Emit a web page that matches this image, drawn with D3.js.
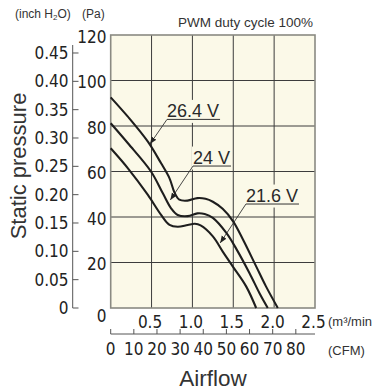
<!DOCTYPE html>
<html><head><meta charset="utf-8">
<script src="https://cdn.jsdelivr.net/npm/d3@7"></script>
<style>body{margin:0;background:#fff}</style>
</head><body><svg id="c" width="378" height="390"></svg>
<script>
// ---------- data ----------
const flowTicks = [0.5, 1.0, 1.5, 2.0, 2.5];
const flowTickLabels = ["0.5", "1.0", "1.5", "2.0", "2.5"];
const paTicks = [20, 40, 60, 80, 100, 120];
const paTickLabels = ["20", "40", "60", "80", "100", "120"];
const inchTicks = [0, 0.05, 0.10, 0.15, 0.20, 0.25, 0.30, 0.35, 0.40, 0.45];
const inchTickLabels = ["0", "0.05", "0.10", "0.15", "0.20", "0.25", "0.30", "0.35", "0.40", "0.45"];
const cfmTicks = [0, 10, 20, 30, 40, 50, 60, 70, 80];
const cfmTickLabels = ["0", "10", "20", "30", "40", "50", "60", "70", "80"];
const seriesNames = ["26.4 V", "24 V", "21.6 V"];

const flow264 = [0, 0.21, 0.455, 0.617, 0.72, 0.78, 0.84, 0.94, 1.06, 1.16, 1.25, 1.37, 1.5, 1.62, 1.78, 1.9, 2.045];
const pa264   = [92.6, 84.1, 73.1, 63.6, 57.0, 50.8, 47.6, 47.2, 48.3, 48.0, 46.7, 43.6, 38.0, 30.0, 18.3, 9.5, 0];
const flow240 = [0, 0.211, 0.495, 0.638, 0.739, 0.82, 0.943, 1.06, 1.15, 1.25, 1.415, 1.537, 1.699, 1.821, 1.922];
const pa240   = [81.2, 72.4, 59.9, 50.4, 43.8, 40.9, 40.4, 41.6, 41.3, 39.6, 33.0, 26.0, 15.3, 6.5, 0];
const flow216 = [0, 0.211, 0.455, 0.617, 0.72, 0.82, 0.943, 1.03, 1.1, 1.25, 1.373, 1.495, 1.659, 1.78];
const pa216   = [70.2, 61.4, 49.7, 40.9, 36.5, 35.7, 36.5, 37.0, 36.3, 31.5, 24.7, 18.2, 9.4, 0];

// label anchors (data space) and arrow targets (data space)
const labelFlow = [0.689, 1.007, 1.655];
const labelPa = [84, 63.5, 46.8];
const arrowFlow = [0.481, 0.73, 1.34];
const arrowPa = [72.1, 47.5, 28.6];

// ---------- layout ----------
const L = 110.7, R = 315, T = 35, B = 308;
const PA_PER_INCH = 249.089, CFM_PER_M3 = 35.3147;
const x = d3.scaleLinear([0, 2.5], [L, R]);
const y = d3.scaleLinear([0, 120], [B, T]);
const yIn = d3.scaleLinear([0, 120 / PA_PER_INCH], [B, T]);
const xCfm = d3.scaleLinear([0, 2.5 * CFM_PER_M3], [L, R]);

const svg = d3.select("#c");
const numFont = "'Liberation Sans Narrow','DejaVu Sans Condensed','Roboto Condensed',sans-serif";
const txtFont = "'Liberation Sans',Arial,Helvetica,sans-serif";
const bg = "#fbf9e8";

svg.append("defs").append("marker")
  .attr("id", "ah").attr("viewBox", "0 0 10 10").attr("refX", 10).attr("refY", 5)
  .attr("markerWidth", 7).attr("markerHeight", 7).attr("markerUnits", "userSpaceOnUse")
  .attr("orient", "auto")
  .append("path").attr("d", "M0,1 L10,5 L0,9 Z").attr("fill", "#222");

// plot background
svg.append("rect").attr("x", L).attr("y", T).attr("width", R - L).attr("height", B - T).attr("fill", bg);

// grid
const g = svg.append("g");
g.selectAll(".vg").data(flowTicks.slice(0, -1)).join("line")
  .attr("x1", d => x(d)).attr("x2", d => x(d)).attr("y1", T).attr("y2", B)
  .attr("stroke", "#3c3c3c").attr("stroke-width", 1);
g.selectAll(".hg").data(paTicks.slice(0, -1)).join("line")
  .attr("y1", d => y(d)).attr("y2", d => y(d)).attr("x1", L).attr("x2", R)
  .attr("stroke", "#3c3c3c").attr("stroke-width", 1);

// curve labels backgrounds + text
const labG = svg.append("g");
const labels = seriesNames.map((name, i) => labG.append("text")
    .attr("x", x(labelFlow[i])).attr("y", y(labelPa[i]))
    .attr("font-family", txtFont).attr("font-size", 18).attr("fill", "#2a2a2a")
    .text(name));
labels.forEach((t, i) => {
  const bb = t.node().getBBox();
  labG.insert("rect", "text")
    .attr("x", bb.x - 1).attr("y", bb.y - 1).attr("width", bb.width + 2).attr("height", bb.height + 3)
    .attr("fill", bg);
  const uy = y(labelPa[i]) + 2.5;
  labG.append("line").attr("x1", bb.x).attr("x2", bb.x + bb.width + 1).attr("y1", uy).attr("y2", uy)
    .attr("stroke", "#333").attr("stroke-width", 1);
  labG.append("line").attr("x1", bb.x).attr("y1", uy)
    .attr("x2", x(arrowFlow[i])).attr("y2", y(arrowPa[i]))
    .attr("stroke", "#333").attr("stroke-width", 0.9).attr("marker-end", "url(#ah)");
});

// border
svg.append("rect").attr("x", L).attr("y", T).attr("width", R - L).attr("height", B - T)
  .attr("fill", "none").attr("stroke", "#8a8a82").attr("stroke-width", 1.6);

// curves
const line = d3.line().x(d => x(d[0])).y(d => y(d[1])).curve(d3.curveCatmullRom.alpha(0.5));
[[flow264, pa264], [flow240, pa240], [flow216, pa216]].forEach(([f, p]) => {
  svg.append("path").datum(f.map((v, i) => [v, p[i]]))
    .attr("d", line).attr("fill", "none").attr("stroke", "#1e1e1e").attr("stroke-width", 2.1)
    .attr("stroke-linejoin", "round");
});

// Pa tick labels
svg.selectAll(".pal").data(paTicks).join("text")
  .attr("x", 106.5).attr("y", d => y(d) + 7.5).attr("text-anchor", "end")
  .attr("font-family", numFont).attr("font-size", 17).attr("fill", "#222")
  .text((d, i) => paTickLabels[i]);
svg.append("text").attr("x", 106.5).attr("y", y(0) + 13.5).attr("text-anchor", "end")
  .attr("font-family", numFont).attr("font-size", 17).attr("fill", "#222").text("0");

// inch axis
svg.append("line").attr("x1", 72.7).attr("x2", 72.7).attr("y1", 45).attr("y2", B)
  .attr("stroke", "#555").attr("stroke-width", 1);
svg.selectAll(".it").data(inchTicks).join("line")
  .attr("x1", 72.7).attr("x2", 78.5).attr("y1", d => yIn(d)).attr("y2", d => yIn(d))
  .attr("stroke", "#555").attr("stroke-width", 1);
svg.selectAll(".il").data(inchTicks).join("text")
  .attr("x", 68.5).attr("y", d => yIn(d) + 6).attr("text-anchor", "end")
  .attr("font-family", numFont).attr("font-size", 17).attr("fill", "#222")
  .text((d, i) => inchTickLabels[i]);

// flow tick labels
svg.selectAll(".fl").data(flowTicks).join("text")
  .attr("x", d => x(d) - 1.5).attr("y", 328).attr("text-anchor", "middle")
  .attr("font-family", numFont).attr("font-size", 17).attr("fill", "#222")
  .text((d, i) => flowTickLabels[i]);
svg.append("text").attr("x", 328).attr("y", 326)
  .attr("font-family", txtFont).attr("font-size", 13).attr("fill", "#333")
  .text("(m³/min");

// CFM axis
svg.append("line").attr("x1", L).attr("x2", R).attr("y1", 334).attr("y2", 334)
  .attr("stroke", "#555").attr("stroke-width", 1);
svg.selectAll(".ct").data(cfmTicks).join("line")
  .attr("x1", d => xCfm(d)).attr("x2", d => xCfm(d)).attr("y1", 334).attr("y2", 329)
  .attr("stroke", "#555").attr("stroke-width", 1);
svg.selectAll(".cl").data(cfmTicks).join("text")
  .attr("x", d => xCfm(d)).attr("y", 355).attr("text-anchor", "middle")
  .attr("font-family", numFont).attr("font-size", 17).attr("fill", "#222")
  .text((d, i) => cfmTickLabels[i]);
svg.append("text").attr("x", 328).attr("y", 355)
  .attr("font-family", txtFont).attr("font-size", 13).attr("fill", "#333").text("(CFM)");

// titles
svg.append("text").attr("x", 213).attr("y", 386).attr("text-anchor", "middle")
  .attr("font-family", txtFont).attr("font-size", 22.5).attr("fill", "#333").text("Airflow");
svg.append("text").attr("transform", "translate(26,166) rotate(-90)").attr("text-anchor", "middle")
  .attr("font-family", txtFont).attr("font-size", 22).attr("fill", "#333").text("Static pressure");

const u = svg.append("text").attr("x", 15).attr("y", 18)
  .attr("font-family", txtFont).attr("font-size", 12).attr("fill", "#333");
u.append("tspan").text("(inch H");
u.append("tspan").attr("font-size", 8).attr("dy", 2).text("2");
u.append("tspan").attr("dy", -2).text("O)");
u.append("tspan").attr("x", 82).text("(Pa)");

svg.append("text").attr("x", 313).attr("y", 27).attr("text-anchor", "end")
  .attr("font-family", txtFont).attr("font-size", 13.5).attr("fill", "#333").text("PWM duty cycle 100%");
</script>
</body></html>
